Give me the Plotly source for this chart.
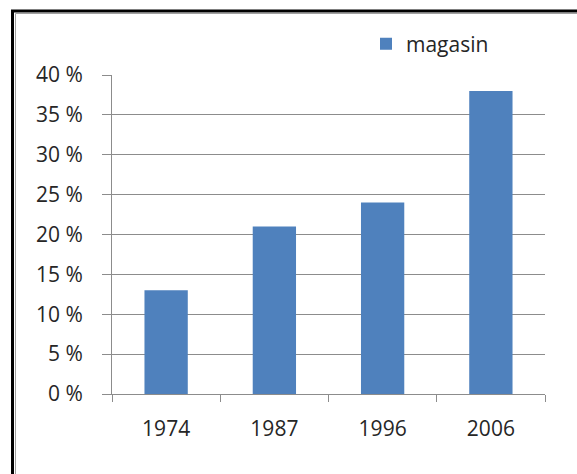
import plotly.graph_objects as go

years = ["1974", "1987", "1996", "2006"]
magasin = [13, 21, 24, 38]
y_ticks = [0, 5, 10, 15, 20, 25, 30, 35, 40]
y_tick_labels = [f"{v} %" for v in y_ticks]

W, H = 577, 474
L, R, T, B = 112, 545, 75, 394  # plot area in page pixels
pw, ph = R - L, B - T


def px(x):
    return (x - L) / pw


def py(y):
    return (B - y) / ph


FONT = "Open Sans, sans-serif"
GRID = "#8c8c8c"

fig = go.Figure()
fig.add_trace(go.Bar(x=years, y=magasin, name="magasin", marker_color="#4F81BD",
                     marker_line_width=0, width=0.4))

fig.update_layout(
    width=W, height=H,
    margin=dict(l=L, r=W - R, t=T, b=H - B, pad=0),
    paper_bgcolor="white", plot_bgcolor="white",
    font=dict(family=FONT, size=21, color="#262626"),
    showlegend=True,
    legend=dict(x=px(366), y=py(44), xanchor="left", yanchor="middle",
                font=dict(size=21, color="#262626"), bgcolor="rgba(0,0,0,0)",
                itemwidth=30),
    xaxis=dict(type="category", showgrid=False, showline=True, linecolor=GRID, linewidth=1,
               ticks="outside", ticklen=7, tickcolor=GRID, tickson="boundaries",
               ticklabelstandoff=16, tickfont=dict(size=21)),
    yaxis=dict(range=[0, 40], tickvals=y_ticks, ticktext=y_tick_labels,
               showgrid=True, gridcolor=GRID, gridwidth=1, showline=True, linecolor=GRID,
               ticks="outside", ticklen=9, tickcolor=GRID, ticklabelstandoff=15,
               tickfont=dict(size=21), zeroline=False, fixedrange=True),
    shapes=[
        dict(type="rect", xref="paper", yref="paper", x0=px(12.5), x1=px(620), y0=py(520), y1=py(11),
             line=dict(color="black", width=3), fillcolor="rgba(0,0,0,0)", layer="above"),
        dict(type="line", xref="paper", yref="paper", x0=px(15.5), x1=px(15.5), y0=py(520), y1=py(13.5),
             line=dict(color="#a0a0a0", width=1)),
        dict(type="line", xref="paper", yref="paper", x0=px(15.5), x1=px(620), y0=py(13.5), y1=py(13.5),
             line=dict(color="#a0a0a0", width=1)),
    ],
)

fig.write_html("out.html", config={"displayModeBar": False},
               post_script="document.body.style.margin='0';document.body.style.overflow='hidden';")
